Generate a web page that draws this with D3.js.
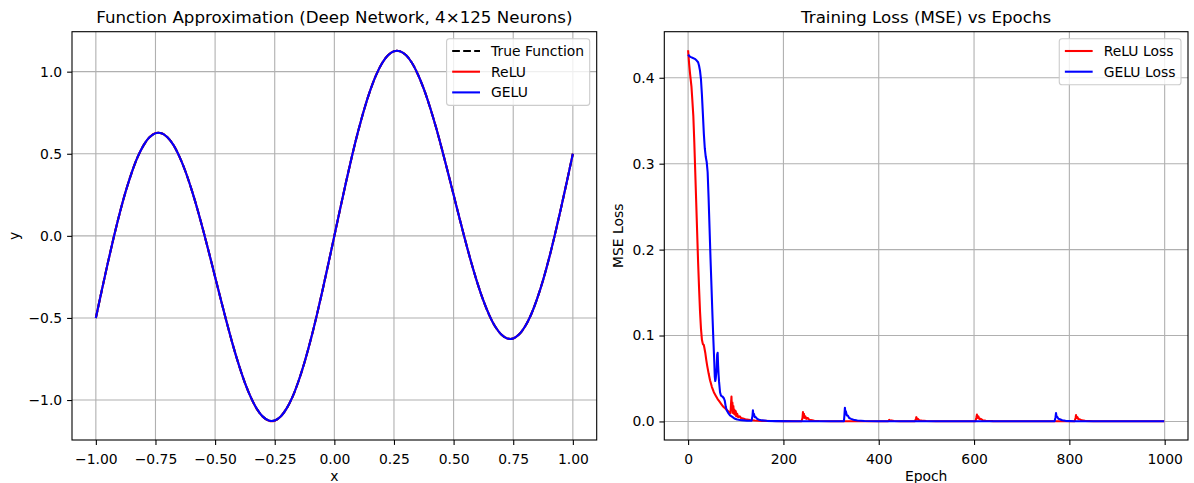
<!DOCTYPE html>
<html>
<head>
<meta charset="utf-8">
<script src="https://cdn.jsdelivr.net/npm/d3@7"></script>
<style>
    body { margin: 0; background: #ffffff; }
    svg text { font-family: "DejaVu Sans", sans-serif; fill: #000000; }
</style>
</head>
<body>
<script>
// left panel: x positions and read y values
var xValues = [-1.000, -0.975, -0.950, -0.925, -0.900, -0.875, -0.850, -0.825, -0.800, -0.775,
    -0.750, -0.725, -0.700, -0.675, -0.650, -0.625, -0.600, -0.575, -0.550, -0.525,
    -0.500, -0.475, -0.450, -0.425, -0.400, -0.375, -0.350, -0.325, -0.300, -0.275,
    -0.250, -0.225, -0.200, -0.175, -0.150, -0.125, -0.100, -0.075, -0.050, -0.025,
    0.000, 0.025, 0.050, 0.075, 0.100, 0.125, 0.150, 0.175, 0.200, 0.225,
    0.250, 0.275, 0.300, 0.325, 0.350, 0.375, 0.400, 0.425, 0.450, 0.475,
    0.500, 0.525, 0.550, 0.575, 0.600, 0.625, 0.650, 0.675, 0.700, 0.725,
    0.750, 0.775, 0.800, 0.825, 0.850, 0.875, 0.900, 0.925, 0.950, 0.975, 1.000];
var trueY = [-0.500, -0.331, -0.166, -0.009, 0.138, 0.270, 0.384, 0.479, 0.551, 0.600,
    0.625, 0.625, 0.601, 0.554, 0.484, 0.395, 0.288, 0.167, 0.034, -0.106,
    -0.250, -0.394, -0.534, -0.667, -0.788, -0.895, -0.984, -1.054, -1.101, -1.125,
    -1.125, -1.100, -1.051, -0.979, -0.884, -0.770, -0.638, -0.492, -0.334, -0.169,
    0.000, 0.169, 0.334, 0.492, 0.638, 0.770, 0.884, 0.979, 1.051, 1.100,
    1.125, 1.125, 1.101, 1.054, 0.984, 0.895, 0.788, 0.667, 0.534, 0.394,
    0.250, 0.106, -0.034, -0.167, -0.288, -0.395, -0.484, -0.554, -0.601, -0.625,
    -0.625, -0.600, -0.551, -0.479, -0.384, -0.270, -0.138, 0.009, 0.166, 0.331, 0.500];
// both networks sit on the true curve at this scale
var reluY = [-0.500, -0.331, -0.166, -0.009, 0.138, 0.270, 0.384, 0.479, 0.551, 0.601,
    0.626, 0.625, 0.601, 0.554, 0.484, 0.395, 0.288, 0.167, 0.034, -0.106,
    -0.250, -0.394, -0.534, -0.667, -0.788, -0.895, -0.984, -1.055, -1.102, -1.126,
    -1.126, -1.100, -1.051, -0.979, -0.884, -0.770, -0.638, -0.492, -0.334, -0.169,
    0.000, 0.169, 0.334, 0.492, 0.638, 0.770, 0.884, 0.979, 1.051, 1.100,
    1.125, 1.125, 1.101, 1.054, 0.984, 0.895, 0.788, 0.667, 0.534, 0.394,
    0.250, 0.106, -0.034, -0.167, -0.288, -0.395, -0.484, -0.554, -0.601, -0.625,
    -0.625, -0.600, -0.551, -0.479, -0.384, -0.270, -0.138, 0.009, 0.166, 0.331, 0.500];
var geluY = [-0.500, -0.331, -0.166, -0.009, 0.138, 0.270, 0.384, 0.479, 0.551, 0.600,
    0.625, 0.625, 0.601, 0.554, 0.484, 0.395, 0.288, 0.167, 0.034, -0.106,
    -0.250, -0.394, -0.534, -0.667, -0.788, -0.895, -0.984, -1.054, -1.101, -1.125,
    -1.125, -1.100, -1.051, -0.979, -0.884, -0.770, -0.638, -0.492, -0.334, -0.169,
    0.000, 0.169, 0.334, 0.492, 0.638, 0.770, 0.884, 0.979, 1.051, 1.100,
    1.125, 1.125, 1.101, 1.054, 0.984, 0.895, 0.788, 0.667, 0.534, 0.394,
    0.250, 0.106, -0.034, -0.167, -0.288, -0.395, -0.484, -0.554, -0.601, -0.625,
    -0.625, -0.600, -0.551, -0.479, -0.384, -0.270, -0.138, 0.009, 0.166, 0.331, 0.500];
var xTicks = [-1.00, -0.75, -0.50, -0.25, 0.00, 0.25, 0.50, 0.75, 1.00];
var yTicks = [-1.0, -0.5, 0.0, 0.5, 1.0];

// right panel: [epoch, loss]
var reluLoss = [[0, 0.432], [2, 0.417], [4, 0.405], [7, 0.390], [9, 0.373], [11, 0.355], [13, 0.325],
    [15, 0.290], [17, 0.255], [19, 0.220], [21, 0.185], [23, 0.155], [25, 0.128], [27, 0.108],
    [29, 0.095], [31, 0.090], [33, 0.089], [34, 0.086], [36, 0.080], [38, 0.072], [40, 0.065],
    [43, 0.056], [46, 0.048], [50, 0.040], [54, 0.034], [58, 0.030], [62, 0.026], [66, 0.023],
    [70, 0.020], [74, 0.017], [78, 0.015], [82, 0.013], [86, 0.011], [89, 0.010], [90, 0.020],
    [91, 0.029], [92, 0.013], [93, 0.022], [94, 0.010], [95, 0.018], [96, 0.009], [97, 0.014],
    [98, 0.008], [100, 0.012], [101, 0.006], [103, 0.009], [105, 0.005], [108, 0.006], [111, 0.004],
    [115, 0.0035], [120, 0.0025], [130, 0.0016], [140, 0.0010], [155, 0.0007], [175, 0.0005],
    [200, 0.0004], [238, 0.0003], [240, 0.004], [241, 0.011], [242, 0.005], [243, 0.009],
    [244, 0.004], [246, 0.006], [248, 0.003], [251, 0.004], [254, 0.002], [258, 0.0015],
    [265, 0.0009], [275, 0.0005], [300, 0.0003], [420, 0.0002], [422, 0.0018], [424, 0.0008],
    [427, 0.0012], [432, 0.0005], [445, 0.0003], [476, 0.0003], [478, 0.003], [479, 0.005],
    [480, 0.002], [482, 0.003], [485, 0.0015], [490, 0.001], [500, 0.0005], [520, 0.0003],
    [603, 0.0003], [605, 0.005], [606, 0.008], [607, 0.004], [609, 0.006], [611, 0.003],
    [614, 0.003], [618, 0.0015], [625, 0.0008], [640, 0.0004], [700, 0.0002], [811, 0.0002],
    [813, 0.004], [814, 0.0074], [815, 0.004], [817, 0.005], [819, 0.0025], [822, 0.0025],
    [826, 0.0013], [833, 0.0007], [850, 0.0003], [999, 0.0002]];
var geluLoss = [[0, 0.427], [3, 0.425], [6, 0.424], [10, 0.423], [14, 0.422], [18, 0.420],
    [21, 0.418], [23, 0.414], [25, 0.408], [27, 0.398], [29, 0.380], [31, 0.358], [33, 0.335],
    [35, 0.318], [37, 0.308], [39, 0.302], [41, 0.290], [43, 0.260], [45, 0.225], [47, 0.190],
    [49, 0.158], [51, 0.125], [53, 0.095], [55, 0.068], [56, 0.052], [57, 0.047], [58, 0.050],
    [60, 0.062], [61, 0.078], [62, 0.080], [63, 0.065], [64, 0.054], [65, 0.046], [67, 0.034],
    [69, 0.030], [72, 0.029], [75, 0.027], [77, 0.024], [79, 0.017], [81, 0.013], [84, 0.010],
    [88, 0.007], [92, 0.0055], [97, 0.0035], [103, 0.0023], [112, 0.0015], [124, 0.0009],
    [133, 0.0008], [135, 0.006], [136, 0.013], [137, 0.007], [138, 0.009], [140, 0.005],
    [142, 0.005], [145, 0.003], [149, 0.002], [155, 0.0012], [165, 0.0007], [185, 0.0004],
    [220, 0.0003], [327, 0.0003], [328, 0.007], [329, 0.016], [330, 0.010], [331, 0.012],
    [333, 0.007], [335, 0.007], [338, 0.004], [342, 0.003], [347, 0.002], [355, 0.001],
    [370, 0.0005], [400, 0.0003], [769, 0.0003], [771, 0.005], [772, 0.0097], [773, 0.006],
    [775, 0.005], [777, 0.003], [780, 0.0025], [785, 0.0013], [792, 0.0007], [810, 0.0003],
    [999, 0.0002]];
var epochTicks = [0, 200, 400, 600, 800, 1000];
var lossTicks = [0.0, 0.1, 0.2, 0.3, 0.4];

var W = 1194, H = 483;
var fontSize = 13.9;

var svg = d3.select("body")
    .append("svg")
    .attr("width", W)
    .attr("height", H);

// panel boxes (pixels)
var leftBox = { x0: 72, x1: 596.7, y0: 31.7, y1: 440 };
var rightBox = { x0: 664.3, x1: 1188, y0: 31.7, y1: 440 };

// scales
var xLeft = d3.scaleLinear().domain([-1.1, 1.1]).range([leftBox.x0, leftBox.x1]);
var yLeft = d3.scaleLinear().domain([-1.2434, 1.2434]).range([leftBox.y1, leftBox.y0]);
var xRight = d3.scaleLinear().domain([-49.95, 1048.95]).range([rightBox.x0, rightBox.x1]);
var yRight = d3.scaleLinear().domain([-0.0216, 0.4536]).range([rightBox.y1, rightBox.y0]);

function drawPanel(box, x, y, xt, yt, xFmt, yFmt, title, xLabel, yLabel, yLabelX) {
    var g = svg.append("g");

    // grid
    g.selectAll(".vgrid").data(xt).enter().append("line")
        .attr("x1", function (d) { return x(d); })
        .attr("x2", function (d) { return x(d); })
        .attr("y1", box.y0).attr("y2", box.y1)
        .style("stroke", "#b0b0b0").style("stroke-width", 1.1);
    g.selectAll(".hgrid").data(yt).enter().append("line")
        .attr("y1", function (d) { return y(d); })
        .attr("y2", function (d) { return y(d); })
        .attr("x1", box.x0).attr("x2", box.x1)
        .style("stroke", "#b0b0b0").style("stroke-width", 1.1);

    // axes
    var xAxis = d3.axisBottom(x).tickValues(xt).tickFormat(xFmt)
        .tickSizeInner(4.9).tickSizeOuter(0).tickPadding(9.2);
    var yAxis = d3.axisLeft(y).tickValues(yt).tickFormat(yFmt)
        .tickSizeInner(4.9).tickSizeOuter(0).tickPadding(4.9);

    var gx = svg.append("g").attr("transform", "translate(0," + box.y1 + ")").call(xAxis);
    var gy = svg.append("g").attr("transform", "translate(" + box.x0 + ",0)").call(yAxis);
    [gx, gy].forEach(function (a) {
        a.select(".domain").remove();
        a.selectAll("line").style("stroke", "#000").style("stroke-width", 1.1);
        a.selectAll("text").style("font-size", fontSize + "px")
            .style("font-family", "'DejaVu Sans', sans-serif").style("fill", "#000");
    });

    // title
    svg.append("text")
        .attr("x", (box.x0 + box.x1) / 2)
        .attr("y", 23.4)
        .style("text-anchor", "middle")
        .style("font-size", "16.67px")
        .text(title);

    // x label
    svg.append("text")
        .attr("x", (box.x0 + box.x1) / 2)
        .attr("y", 481)
        .style("text-anchor", "middle")
        .style("font-size", fontSize + "px")
        .text(xLabel);

    // y label
    svg.append("text")
        .attr("transform", "translate(" + yLabelX + "," + ((box.y0 + box.y1) / 2) + ") rotate(-90)")
        .style("text-anchor", "middle")
        .style("font-size", fontSize + "px")
        .text(yLabel);

    return g;
}

function drawFrame(box) {
    svg.append("rect")
        .attr("x", box.x0).attr("y", box.y0)
        .attr("width", box.x1 - box.x0).attr("height", box.y1 - box.y0)
        .style("fill", "none").style("stroke", "#000").style("stroke-width", 1.1);
}

function drawLegend(box, items) {
    var g = svg.append("g");
    var bp = 5.6, hl = 27.8, hp = 11.1;
    var texts = [];
    var maxW = 0;
    items.forEach(function (it) {
        var t = g.append("text").style("font-size", fontSize + "px").text(it.label);
        texts.push(t);
        maxW = Math.max(maxW, t.node().getComputedTextLength());
    });
    var bw = bp + hl + hp + maxW + bp;
    var bh = 12.3 + (items.length - 1) * 20.7 + 13;
    var right = box.x1 - 7;
    var left = right - bw;
    var top = box.y0 + 7;

    g.insert("rect", ":first-child")
        .attr("x", left).attr("y", top)
        .attr("width", bw).attr("height", bh)
        .attr("rx", 2.8).attr("ry", 2.8)
        .style("fill", "#ffffff").style("fill-opacity", 0.8)
        .style("stroke", "#cccccc").style("stroke-width", 1.1);

    items.forEach(function (it, i) {
        var cy = top + 12.3 + i * 20.7;
        g.append("line")
            .attr("x1", left + bp).attr("x2", left + bp + hl)
            .attr("y1", cy).attr("y2", cy)
            .style("stroke", it.color).style("stroke-width", 2.08)
            .style("stroke-dasharray", it.dash || null);
        texts[i].attr("x", left + bp + hl + hp).attr("y", cy + 5);
    });
}

// ---------- left panel ----------
drawPanel(leftBox, xLeft, yLeft, xTicks, yTicks, d3.format(".2f"), d3.format(".1f"),
    "Function Approximation (Deep Network, 4\u00d7125 Neurons)", "x", "y", 19);

var fnLine = function (ys) {
    return d3.line()
        .x(function (d, i) { return xLeft(xValues[i]); })
        .y(function (d) { return yLeft(d); })
        .curve(d3.curveCatmullRom.alpha(0.5))(ys);
};

svg.append("path").attr("d", fnLine(trueY))
    .style("fill", "none").style("stroke", "#000").style("stroke-width", 2.08)
    .style("stroke-dasharray", "7.7,3.3");
svg.append("path").attr("d", fnLine(reluY))
    .style("fill", "none").style("stroke", "red").style("stroke-width", 2.08);
svg.append("path").attr("d", fnLine(geluY))
    .style("fill", "none").style("stroke", "blue").style("stroke-width", 2.08);

drawFrame(leftBox);
drawLegend(leftBox, [
    { label: "True Function", color: "#000", dash: "7.7,3.3" },
    { label: "ReLU", color: "red" },
    { label: "GELU", color: "blue" }
]);

// ---------- right panel ----------
drawPanel(rightBox, xRight, yRight, epochTicks, lossTicks, d3.format("d"), d3.format(".1f"),
    "Training Loss (MSE) vs Epochs", "Epoch", "MSE Loss", 622.5);

var lossLine = d3.line()
    .x(function (d) { return xRight(d[0]); })
    .y(function (d) { return yRight(d[1]); });

svg.append("path").attr("d", lossLine(reluLoss))
    .style("fill", "none").style("stroke", "red").style("stroke-width", 2.08)
    .style("stroke-linejoin", "round");
svg.append("path").attr("d", lossLine(geluLoss))
    .style("fill", "none").style("stroke", "blue").style("stroke-width", 2.08)
    .style("stroke-linejoin", "round");

drawFrame(rightBox);
drawLegend(rightBox, [
    { label: "ReLU Loss", color: "red" },
    { label: "GELU Loss", color: "blue" }
]);
</script>
</body>
</html>
